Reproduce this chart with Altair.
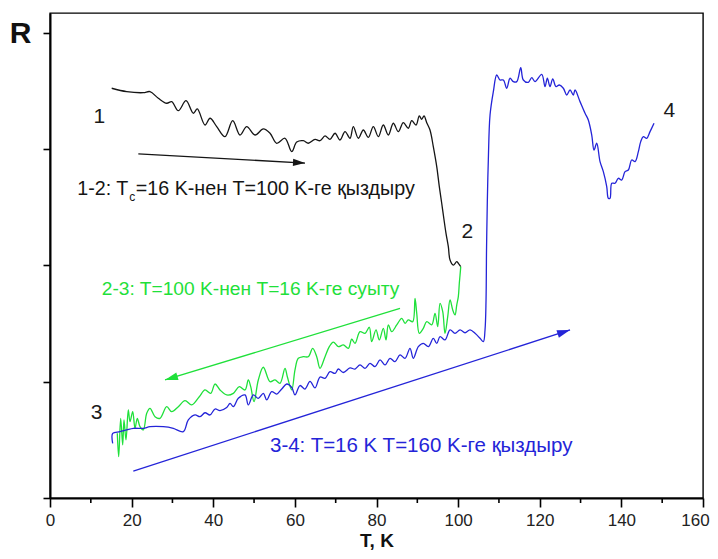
import altair as alt
import pandas as pd

# ---------------- data ----------------
black_T = [15.12, 18.79, 22.86, 24.50, 26.54, 28.60, 29.82, 31.44, 33.33, 35.11, 36.09, 37.98, 39.21, 40.85, 42.88, 44.77, 46.56, 48.20, 50.23, 52.27, 53.91, 55.55, 57.58, 59.23, 60.45, 62.07, 63.29, 64.94, 66.16, 67.39, 68.61, 69.84, 71.06, 72.29, 73.51, 74.32, 75.55, 76.77, 78.00, 79.22, 80.45, 81.67, 82.90, 84.12, 85.35, 86.57, 87.80, 88.63, 89.68, 90.49, 91.08, 91.64, 92.31, 93.11, 93.92, 94.76, 95.39, 95.98, 96.55, 97.03, 97.60, 98.02, 98.82, 99.66, 100.05, 100.64]
black_R = [3.523, 3.494, 3.485, 3.494, 3.437, 3.394, 3.408, 3.330, 3.416, 3.308, 3.345, 3.207, 3.265, 3.193, 3.107, 3.244, 3.121, 3.193, 3.121, 3.173, 3.136, 3.050, 3.093, 2.978, 3.060, 3.072, 3.050, 3.084, 3.072, 3.113, 3.084, 3.136, 3.078, 3.150, 3.093, 3.193, 3.093, 3.164, 3.101, 3.193, 3.107, 3.207, 3.121, 3.222, 3.150, 3.227, 3.179, 3.244, 3.207, 3.285, 3.256, 3.285, 3.227, 3.164, 3.021, 2.849, 2.677, 2.534, 2.390, 2.276, 2.161, 2.046, 2.003, 2.032, 2.018, 1.989]

green_T = [16.49, 16.83, 17.32, 17.81, 18.13, 18.62, 19.19, 19.60, 20.26, 20.83, 21.39, 22.05, 22.86, 23.70, 24.50, 25.73, 26.95, 28.60, 29.82, 31.44, 33.08, 34.72, 36.58, 37.98, 39.38, 40.43, 41.66, 43.30, 44.92, 46.39, 47.78, 48.59, 49.18, 49.99, 51.04, 52.27, 53.91, 55.13, 56.36, 57.58, 58.15, 59.23, 60.03, 60.84, 62.07, 63.29, 64.37, 65.35, 66.16, 67.39, 68.44, 69.42, 70.64, 71.87, 73.10, 73.93, 74.74, 75.96, 77.19, 78.24, 78.83, 79.88, 80.69, 81.67, 82.33, 82.90, 83.73, 84.96, 86.18, 86.99, 87.80, 88.87, 89.44, 89.86, 90.49, 91.47, 92.31, 93.53, 94.34, 95.00, 95.57, 96.23, 96.79, 97.45, 98.02, 98.68, 99.24, 99.66, 100.05, 100.29, 100.47, 100.64]
green_R = [0.556, 0.355, 0.685, 0.456, 0.671, 0.499, 0.757, 0.656, 0.742, 0.599, 0.685, 0.613, 0.585, 0.728, 0.771, 0.699, 0.685, 0.785, 0.742, 0.785, 0.837, 0.800, 0.871, 0.929, 0.900, 0.980, 0.929, 0.886, 0.900, 0.957, 0.929, 1.015, 0.957, 0.828, 1.015, 1.124, 1.000, 1.015, 0.986, 1.115, 1.043, 0.929, 1.101, 1.201, 1.215, 1.215, 1.287, 1.215, 1.115, 1.215, 1.301, 1.341, 1.301, 1.316, 1.287, 1.365, 1.330, 1.430, 1.416, 1.468, 1.344, 1.445, 1.359, 1.459, 1.359, 1.488, 1.430, 1.488, 1.545, 1.502, 1.531, 1.516, 1.717, 1.588, 1.416, 1.459, 1.516, 1.488, 1.588, 1.473, 1.674, 1.602, 1.416, 1.559, 1.703, 1.617, 1.574, 1.659, 1.731, 1.846, 1.917, 1.989]

blue_T = [15.36, 15.36, 17.15, 18.79, 20.41, 22.86, 24.50, 27.76, 30.21, 32.66, 33.89, 35.53, 36.76, 37.98, 39.21, 40.43, 41.66, 43.30, 44.11, 44.92, 46.14, 47.78, 48.59, 49.82, 51.04, 52.27, 53.10, 54.32, 55.55, 56.78, 58.00, 59.23, 60.03, 61.26, 62.48, 63.71, 64.94, 66.16, 67.39, 68.61, 69.84, 70.64, 71.87, 73.51, 74.74, 75.96, 77.19, 78.41, 79.64, 80.86, 82.09, 83.31, 84.54, 85.76, 86.99, 88.21, 89.02, 90.25, 91.47, 92.70, 93.92, 94.76, 95.57, 96.79, 98.02, 99.24, 100.47, 101.69, 102.92, 104.14, 105.37, 106.18, 106.59, 106.84, 106.96, 107.16, 107.40, 107.82, 108.63, 109.46, 110.27, 111.08, 111.91, 112.72, 113.53, 114.36, 115.34, 115.98, 117.20, 118.04, 118.84, 120.49, 121.29, 121.86, 122.52, 123.18, 123.99, 124.80, 125.78, 126.61, 127.42, 128.23, 128.65, 129.87, 131.10, 131.90, 132.74, 133.30, 133.96, 134.77, 135.58, 136.41, 136.81, 137.22, 137.64, 138.45, 139.26, 140.09, 140.90, 141.71, 142.54, 143.35, 144.16, 144.74, 145.38, 146.21, 147.02, 148.00]
blue_R = [0.470, 0.556, 0.570, 0.585, 0.599, 0.599, 0.613, 0.613, 0.599, 0.570, 0.671, 0.714, 0.699, 0.733, 0.714, 0.765, 0.752, 0.778, 0.814, 0.785, 0.857, 0.886, 0.800, 0.886, 0.857, 0.900, 0.843, 0.914, 0.894, 0.937, 0.980, 0.950, 0.886, 0.967, 0.937, 1.002, 0.946, 1.040, 1.029, 1.086, 1.071, 1.109, 1.079, 1.118, 1.109, 1.144, 1.115, 1.158, 1.129, 1.187, 1.144, 1.201, 1.172, 1.230, 1.201, 1.287, 1.201, 1.301, 1.330, 1.301, 1.373, 1.330, 1.387, 1.359, 1.445, 1.416, 1.445, 1.421, 1.445, 1.416, 1.373, 1.344, 1.445, 1.703, 2.132, 2.562, 2.906, 3.293, 3.494, 3.637, 3.594, 3.594, 3.523, 3.609, 3.580, 3.580, 3.700, 3.594, 3.574, 3.614, 3.580, 3.643, 3.537, 3.609, 3.537, 3.603, 3.537, 3.551, 3.523, 3.465, 3.508, 3.465, 3.508, 3.408, 3.308, 3.250, 3.121, 2.992, 3.050, 2.892, 2.806, 2.677, 2.577, 2.577, 2.706, 2.706, 2.749, 2.734, 2.806, 2.820, 2.906, 2.892, 2.978, 3.064, 3.107, 3.093, 3.150, 3.222]

x_ticks = [0, 20, 40, 60, 80, 100, 120, 140, 160]
x_minor = [10, 30, 50, 70, 90, 110, 130, 150]
y_ticks = [0, 1, 2, 3, 4]

point_labels = ["1", "2", "3", "4"]
point_T = [12.08, 102.26, 11.44, 151.75]
point_R = [3.279, 2.290, 0.728, 3.328]

# arrows: start (T0,R0) -> tip (T1,R1)
arrow_black = {"T0": 21.64, "R0": 2.958, "T1": 62.48, "R1": 2.880}
arrow_green = {"T0": 85.76, "R0": 1.631, "T1": 28.18, "R1": 1.015}
arrow_blue = {"T0": 20.41, "R0": 0.232, "T1": 127.42, "R1": 1.445}

text_black_a = "1-2: T"
text_black_sub = "c"
text_black_b = "=16 K-нен T=100 K-ге қыздыру"
text_black_pos = (6.69, 2.605)
text_green = "2-3: T=100 K-нен T=16 K-ге суыту"
text_green_pos = (12.67, 1.745)
text_blue = "3-4: T=16 K T=160 K-ге қыздыру"
text_blue_pos = (53.9, 0.398)

# ---------------- styling ----------------
W, H = 653, 485
BLACK = "#151515"
GREEN = "#1fe03a"
BLUE = "#2424d8"
FONT = "Liberation Sans"

xs = alt.Scale(domain=[0, 160], nice=False, zero=False)
ys = alt.Scale(domain=[0, 4.17], nice=False, zero=False)

x_axis = alt.Axis(values=x_ticks, title="T, K", grid=False, format="d", labelFlush=False,
                  labelFont=FONT, labelFontSize=17, labelColor="#222222", labelPadding=5,
                  labelOffset={"condition": {"test": "datum.value === 160", "value": -8}, "value": 0},
                  tickSize=9, tickWidth=1.6, tickColor="black",
                  domainColor="black", domainWidth=2,
                  titleFont=FONT, titleFontSize=19, titleFontWeight="bold", titleColor="#111111",
                  titleX=W / 2, titleY=42, titleBaseline="middle", titleAlign="center")
y_axis = alt.Axis(values=y_ticks, labels=False, title="R", grid=False,
                  tickSize=7, tickWidth=1.6, tickColor="black",
                  domainColor="black", domainWidth=2,
                  titleFont=FONT, titleFontSize=30, titleFontWeight="bold", titleColor="#111111",
                  titleAngle=0, titleX=-30, titleY=20, titleAlign="center", titleBaseline="middle")


def X(f):
    return alt.X(f, type="quantitative", scale=xs, axis=x_axis)


def Y(f):
    return alt.Y(f, type="quantitative", scale=ys, axis=y_axis)


def series(T, R):
    return pd.DataFrame({"T": T, "R": R, "i": list(range(len(T)))})


def line(T, R, color):
    return alt.Chart(series(T, R)).mark_line(color=color, strokeWidth=1.3,
                                             interpolate="catmull-rom").encode(
        x=X("T"), y=Y("R"), order=alt.Order("i:Q"))


ARROW_PATH = "M0,0 L-2,-0.6 L-2,0.6 Z"


def arrow(a, color, angle, size=169):
    df = pd.DataFrame([a])
    body = alt.Chart(df).mark_rule(color=color, strokeWidth=1.3).encode(
        x=X("T0"), y=Y("R0"), x2="T1", y2="R1")
    head = alt.Chart(df).mark_point(shape=ARROW_PATH, filled=True, size=size, angle=angle,
                                    color=color, opacity=1, strokeWidth=0).encode(
        x=X("T1"), y=Y("R1"))
    return body + head


def label(txt, pos, color, size=19.5, dx=0, dy=0):
    df = pd.DataFrame({"T": [pos[0]], "R": [pos[1]], "txt": [txt]})
    return alt.Chart(df).mark_text(align="left", baseline="alphabetic", font=FONT,
                                   fontSize=size, color=color, dx=dx, dy=dy).encode(
        x=X("T"), y=Y("R"), text="txt:N")


minor = alt.Chart(pd.DataFrame({"T": x_minor})).mark_rule(color="black", strokeWidth=1.6).encode(
    x=X("T"), y=alt.value(H), y2=alt.value(H + 5))

nums = alt.Chart(pd.DataFrame({"T": point_T, "R": point_R, "lab": point_labels})).mark_text(
    align="center", baseline="middle", font=FONT, fontSize=21, color="#1a1a1a").encode(
    x=X("T"), y=Y("R"), text="lab:N")

chart = alt.layer(
    line(black_T, black_R, BLACK),
    line(green_T, green_R, GREEN),
    line(blue_T, blue_R, BLUE),
    arrow(arrow_black, BLACK, 3, 144),
    arrow(arrow_green, GREEN, 163),
    arrow(arrow_blue, BLUE, 342),
    label(text_black_a, text_black_pos, BLACK, size=19.7),
    label(text_black_sub, text_black_pos, BLACK, size=12, dx=52, dy=6),
    label(text_black_b, text_black_pos, BLACK, size=19.7, dx=58.5),
    label(text_green, text_green_pos, GREEN, size=19.2),
    label(text_blue, text_blue_pos, BLUE, size=20.5),
    nums,
    minor,
).properties(
    width=W, height=H,
    autosize=alt.AutoSizeParams(type="none"),
    padding={"left": 42, "top": 5, "right": 7, "bottom": 53},
    background="white",
).configure_view(stroke="black", strokeWidth=1.4)

chart.save("out.html", embed_options={"renderer": "svg", "actions": False})
